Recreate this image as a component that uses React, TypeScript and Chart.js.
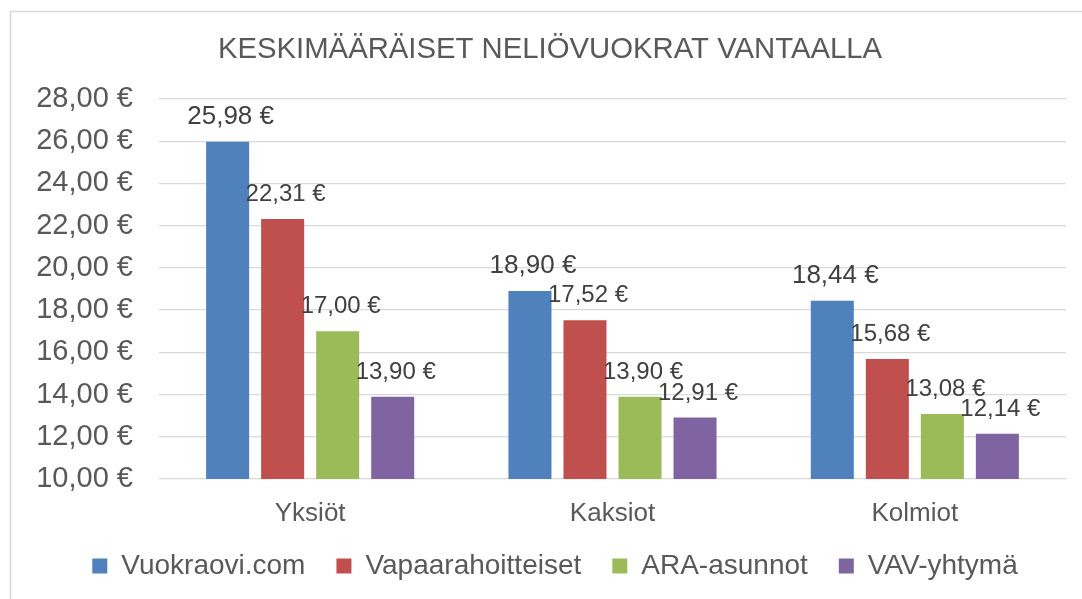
import React, { useEffect, useRef } from 'react';
import { Chart, registerables } from 'chart.js';

Chart.register(...registerables);

const title = 'KESKIMÄÄRÄISET NELIÖVUOKRAT VANTAALLA';
const categories = ['Yksiöt', 'Kaksiot', 'Kolmiot'];
const seriesNames = ['Vuokraovi.com', 'Vapaarahoitteiset', 'ARA-asunnot', 'VAV-yhtymä'];
const vuokraovi = [25.98, 18.9, 18.44];
const vapaarahoitteiset = [22.31, 17.52, 15.68];
const araAsunnot = [17.0, 13.9, 13.08];
const vavYhtyma = [13.9, 12.91, 12.14];
const seriesColors = ['#4F81BD', '#C0504D', '#9BBB59', '#8064A2'];
const yMin = 10;
const yMax = 28;
const yStep = 2;

const FONT = '"Liberation Sans", Arial, Helvetica, sans-serif';
const fmt = (v: number) => v.toFixed(2).replace('.', ',') + ' €';

const framePlugin = {
  id: 'frameTitle',
  afterLayout(chart: any) {
    const lg = chart.legend;
    if (lg) {
      const dx = 22;
      const dy = -8;
      lg.left += dx;
      lg.right += dx;
      lg.top += dy;
      lg.bottom += dy;
    }
  },
  beforeDraw(chart: any) {
    const ctx = chart.ctx;
    ctx.save();
    ctx.fillStyle = '#ffffff';
    ctx.fillRect(0, 0, chart.width, chart.height);
    ctx.strokeStyle = '#d9d9d9';
    ctx.lineWidth = 1.5;
    ctx.beginPath();
    ctx.moveTo(10.5, chart.height + 5);
    ctx.lineTo(10.5, 11.5);
    ctx.lineTo(chart.width + 5, 11.5);
    ctx.stroke();
    ctx.fillStyle = '#595959';
    ctx.font = `29.3px ${FONT}`;
    ctx.textAlign = 'center';
    ctx.textBaseline = 'alphabetic';
    ctx.fillText(title, 550, 58);
    ctx.restore();
  },
};

const labelPlugin = {
  id: 'valueLabels',
  afterDatasetsDraw(chart: any) {
    const ctx = chart.ctx;
    ctx.save();
    ctx.fillStyle = '#404040';
    ctx.textAlign = 'center';
    ctx.textBaseline = 'alphabetic';
    chart.data.datasets.forEach((ds: any, di: number) => {
      const meta = chart.getDatasetMeta(di);
      ctx.font = `${di === 0 ? 26 : 24}px ${FONT}`;
      meta.data.forEach((el: any, i: number) => {
        ctx.fillText(fmt(ds.data[i]), el.x + 3, el.y - 18);
      });
    });
    ctx.restore();
  },
};

export default function App() {
  const ref = useRef<HTMLCanvasElement | null>(null);
  useEffect(() => {
    document.body.style.margin = '0';
    const series = [vuokraovi, vapaarahoitteiset, araAsunnot, vavYhtyma];
    const chart = new Chart(ref.current as HTMLCanvasElement, {
      type: 'bar',
      data: {
        labels: categories,
        datasets: series.map((d, i) => ({
          label: seriesNames[i],
          data: d,
          backgroundColor: seriesColors[i],
          borderWidth: 0,
          categoryPercentage: 0.728,
          barPercentage: 0.782,
        })),
      },
      options: {
        responsive: false,
        animation: false,
        events: [],
        layout: { padding: { left: 0, right: 16, top: 99, bottom: 1 } },
        plugins: {
          title: { display: false },
          tooltip: { enabled: false },
          legend: {
            position: 'bottom',
            labels: {
              boxWidth: 15,
              boxHeight: 15,
              padding: 31,
              color: '#595959',
              font: { family: FONT, size: 28 },
            },
          },
        },
        scales: {
          x: {
            grid: { display: false },
            border: { display: false },
            ticks: { color: '#595959', font: { family: FONT, size: 26 }, padding: 11 },
            afterFit: (s: any) => { s.height = 50; },
          },
          y: {
            min: yMin,
            max: yMax,
            grid: { color: '#d9d9d9', lineWidth: 1.3, drawTicks: false },
            border: { display: false },
            ticks: {
              stepSize: yStep,
              color: '#595959',
              font: { family: FONT, size: 29 },
              padding: 26,
              callback: (v: any) => fmt(Number(v)),
            },
            afterFit: (s: any) => { s.width = 159; },
          },
        },
      },
      plugins: [framePlugin, labelPlugin],
    });
    return () => chart.destroy();
  }, []);
  return (
    <div style={{ width: 1082, height: 599, overflow: 'hidden' }}>
      <canvas ref={ref} width={1082} height={599} style={{ display: 'block' }} />
    </div>
  );
}
